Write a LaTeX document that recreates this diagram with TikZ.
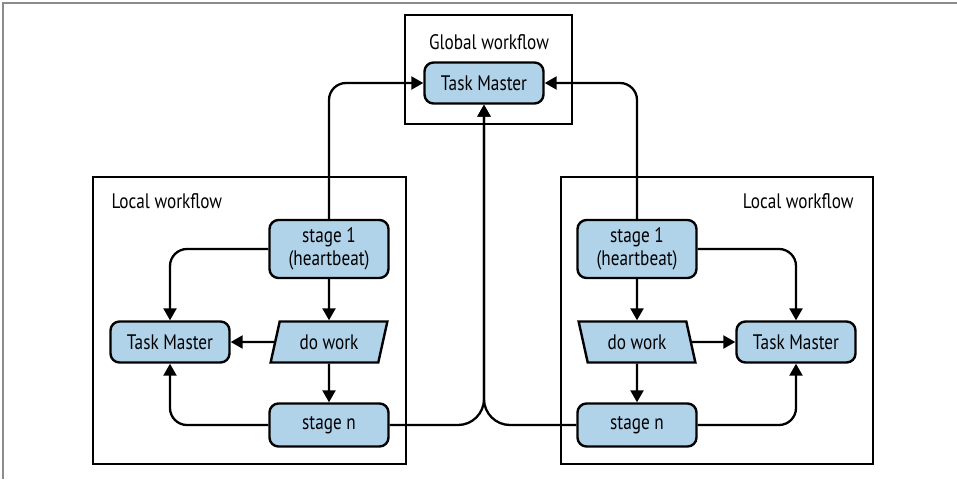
\documentclass[tikz,border=0pt]{standalone}
\usepackage{fontspec}
\setmainfont{PT Sans}[FakeStretch=0.82]
\usetikzlibrary{shapes.geometric,arrows.meta}
\definecolor{taskblue}{RGB}{176,211,234}

\begin{document}
\begin{tikzpicture}[x=1pt, y=-1pt,
  box/.style={rectangle, draw, rounded corners=9pt, fill=taskblue, line width=2.4pt, align=center, font=\fontsize{21}{23}\selectfont, minimum width=119pt, minimum height=41pt, inner sep=2pt},
  work/.style={trapezium, draw, fill=taskblue, line width=2.4pt, trapezium stretches=true, minimum width=117pt, minimum height=41pt, inner sep=2pt, font=\fontsize{21}{23}\selectfont},
  frame/.style={draw, line width=2.2pt},
  arrow/.style={-{Triangle[length=12pt,width=13pt]}, line width=2.3pt, rounded corners=17pt},
  label/.style={font=\fontsize{21}{23}\selectfont},
]
\useasboundingbox (0,0) rectangle (957,479);
\draw[black!45, line width=1.5pt] (957,3) -- (3,3) -- (3,479);

% === GLOBAL WORKFLOW ===
\draw[frame] (405,15) rectangle (572,124);
\node[label] (gtitle) at (489,42) {Global workflow};
\node[box] (gtm) at (484,83) {Task Master};

% === LOCAL WORKFLOW (LEFT) ===
\draw[frame] (93,177) rectangle (406,464);
\node[label, anchor=west] (ltitle) at (108,201) {Local workflow};
\node[box, minimum height=58pt] (ls1) at (329,249) {stage 1\\(heartbeat)};
\node[work, trapezium left angle=73, trapezium right angle=107] (lwork) at (329,342) {do work};
\node[box] (ltm) at (170,342) {Task Master};
\node[box, minimum height=43pt] (lsn) at (329,425) {stage n};

\draw[arrow] (ls1.south) -- (lwork.north);
\draw[arrow] (lwork.south) -- (lsn.north);
\draw[arrow] (lwork.west) -- (ltm.east);
\draw[arrow] (ls1.west) -| (ltm.north);
\draw[arrow] (lsn.west) -| (ltm.south);

% === LOCAL WORKFLOW (RIGHT) ===
\draw[frame] (561,177) rectangle (873,464);
\node[label, anchor=east] (rtitle) at (857,201) {Local workflow};
\node[box, minimum height=58pt] (rs1) at (637,249) {stage 1\\(heartbeat)};
\node[work, trapezium left angle=107, trapezium right angle=73] (rwork) at (637,342) {do work};
\node[box] (rtm) at (796,342) {Task Master};
\node[box, minimum height=43pt] (rsn) at (637,425) {stage n};

\draw[arrow] (rs1.south) -- (rwork.north);
\draw[arrow] (rwork.south) -- (rsn.north);
\draw[arrow] (rwork.east) -- (rtm.west);
\draw[arrow] (rs1.east) -| (rtm.north);
\draw[arrow] (rsn.east) -| (rtm.south);

% === LINKS TO GLOBAL TASK MASTER ===
\draw[arrow] (ls1.north) |- (gtm.west);
\draw[arrow] (rs1.north) |- (gtm.east);
\draw[arrow, rounded corners=26pt] (lsn.east) -| (gtm.south);
\draw[arrow, rounded corners=26pt] (rsn.west) -| (gtm.south);
\end{tikzpicture}
\end{document}
